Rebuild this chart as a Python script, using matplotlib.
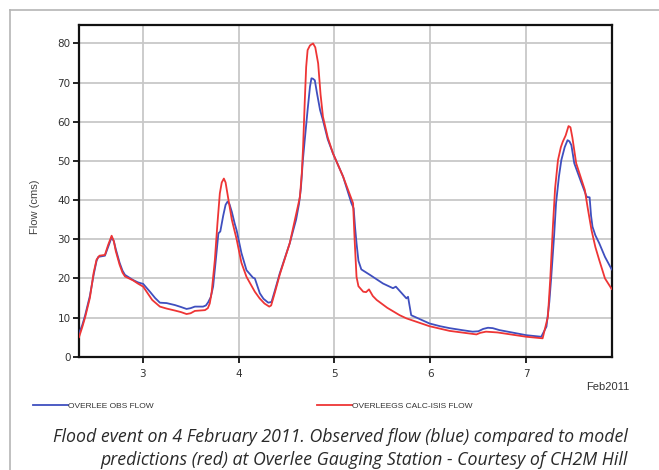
import matplotlib
matplotlib.use('Agg')
import matplotlib.pyplot as plt
from matplotlib.lines import Line2D

# =============================================================================
# Datos (dia de febrero 2011, caudal en cms)
# =============================================================================
# caudal observado (azul)
obs_day = [2.337, 2.37, 2.40, 2.45, 2.49, 2.52, 2.538, 2.607, 2.64, 2.677,
           2.70, 2.72, 2.76, 2.79, 2.816, 2.90, 2.95, 3.006, 3.08, 3.13,
           3.18, 3.25, 3.336, 3.40, 3.458, 3.50, 3.545, 3.63, 3.66, 3.683,
           3.71, 3.735, 3.76, 3.79, 3.81, 3.84, 3.865, 3.885, 3.905, 3.93,
           3.96, 3.98, 4.03, 4.083, 4.15, 4.17, 4.222, 4.26, 4.31, 4.344,
           4.38, 4.43, 4.534, 4.60, 4.63, 4.65, 4.67, 4.69, 4.72, 4.745,
           4.76, 4.775, 4.795, 4.82, 4.85, 4.88, 4.93, 4.985, 5.09, 5.177,
           5.20, 5.215, 5.23, 5.25, 5.28, 5.37, 5.506, 5.61, 5.64, 5.75,
           5.767, 5.80, 5.99, 6.10, 6.20, 6.33, 6.44, 6.50, 6.55, 6.60,
           6.65, 6.72, 7.0, 7.156, 7.21, 7.24, 7.26, 7.29, 7.31, 7.34,
           7.365, 7.40, 7.43, 7.45, 7.47, 7.50, 7.57, 7.63, 7.66, 7.675,
           7.69, 7.72, 7.76, 7.82, 7.89]
obs_flow = [6.0, 8.0, 10.5, 15.5, 21.0, 24.5, 25.5, 25.8, 28.0, 30.5,
            29.5, 27.5, 24.0, 22.0, 20.9, 19.6, 19.0, 18.6, 16.5, 15.0,
            13.8, 13.7, 13.2, 12.7, 12.2, 12.4, 12.8, 12.8, 13.1, 13.9,
            15.2, 17.9, 24.0, 31.5, 32.0, 36.0, 38.8, 39.6, 39.0, 37.0,
            34.0, 32.3, 26.5, 22.1, 20.2, 20.0, 16.2, 14.8, 13.8, 14.0,
            17.0, 21.3, 29.0, 35.0, 39.0, 43.0, 50.0, 55.3, 63.0, 69.0,
            71.1, 71.0, 70.6, 67.0, 63.0, 60.4, 55.5, 51.9, 46.0, 39.2,
            37.9, 33.0, 29.0, 24.5, 22.3, 20.9, 18.7, 17.5, 17.9, 14.9,
            15.3, 10.6, 8.5, 7.8, 7.3, 6.8, 6.4, 6.5, 7.1, 7.4,
            7.3, 6.8, 5.5, 5.1, 7.7, 14.0, 20.4, 31.0, 39.2, 46.0,
            50.2, 53.5, 55.3, 55.0, 54.0, 49.4, 44.7, 40.8, 40.7, 36.0,
            33.2, 31.0, 29.0, 25.5, 22.3]

# caudal calculado ISIS (rojo)
calc_day = [2.337, 2.37, 2.40, 2.45, 2.49, 2.52, 2.55, 2.607, 2.64, 2.677,
            2.70, 2.72, 2.76, 2.79, 2.816, 2.90, 2.95, 3.006, 3.05, 3.10,
            3.18, 3.25, 3.336, 3.40, 3.458, 3.50, 3.545, 3.65, 3.68, 3.70,
            3.72, 3.753, 3.78, 3.805, 3.825, 3.847, 3.865, 3.89, 3.93, 3.98,
            4.03, 4.083, 4.17, 4.22, 4.27, 4.32, 4.34, 4.38, 4.43, 4.534,
            4.64, 4.66, 4.673, 4.69, 4.705, 4.72, 4.745, 4.777, 4.80, 4.83,
            4.855, 4.88, 4.93, 4.985, 5.09, 5.194, 5.21, 5.23, 5.25, 5.30,
            5.33, 5.36, 5.40, 5.44, 5.55, 5.68, 5.75, 5.99, 6.20, 6.48,
            6.52, 6.58, 6.70, 7.0, 7.17, 7.225, 7.25, 7.277, 7.30, 7.33,
            7.36, 7.38, 7.41, 7.44, 7.46, 7.48, 7.52, 7.61, 7.64, 7.68,
            7.72, 7.76, 7.82, 7.89]
calc_flow = [5.0, 7.5, 10.0, 15.0, 21.5, 24.8, 25.8, 26.0, 28.5, 30.9,
             29.5, 27.0, 23.5, 21.5, 20.5, 19.5, 18.7, 17.9, 16.3, 14.5,
             12.8, 12.3, 11.8, 11.4, 10.9, 11.1, 11.7, 11.9, 12.4, 13.6,
             16.5, 24.7, 34.0, 41.7, 44.5, 45.5, 44.5, 40.8, 35.0, 30.0,
             24.0, 20.4, 16.6, 14.9, 13.6, 12.8, 13.1, 16.5, 21.0, 29.0,
             40.8, 47.0, 53.6, 65.0, 74.0, 78.3, 79.5, 80.0, 79.0, 74.9,
             67.0, 61.3, 56.0, 51.9, 46.0, 39.2, 30.0, 20.4, 18.0, 16.6,
             16.5, 17.2, 15.5, 14.5, 12.5, 10.6, 9.8, 7.8, 6.6, 5.7,
             6.1, 6.4, 6.2, 5.1, 4.7, 10.2, 20.0, 33.2, 43.0, 50.2,
             53.5, 54.9, 56.5, 58.9, 58.6, 56.0, 49.4, 42.6, 38.0, 32.3,
             28.0, 24.7, 20.0, 17.3]

x_ticks = [3, 4, 5, 6, 7]
y_ticks = [0, 10, 20, 30, 40, 50, 60, 70, 80]

COL_OBS = '#3f4fbf'
COL_CALC = '#ee3535'

plt.rcParams['font.family'] = ['Liberation Sans', 'DejaVu Sans']

fig = plt.figure(figsize=(6.59, 4.70), dpi=100)
ax = fig.add_axes([0.1199, 0.241, 0.8083, 0.7057])

ax.plot(obs_day, obs_flow, color=COL_OBS, lw=1.3, label='OVERLEE OBS FLOW',
        zorder=3)
ax.plot(calc_day, calc_flow, color=COL_CALC, lw=1.3,
        label='OVERLEEGS CALC-ISIS FLOW', zorder=3)

ax.set_xlim(2.337, 7.89)
ax.set_ylim(0, 84.7)
ax.set_xticks(x_ticks)
ax.set_yticks(y_ticks)
ax.grid(True, color='#c8c8c8', lw=1.3)
ax.set_axisbelow(True)
for s in ax.spines.values():
    s.set_linewidth(1.6)
    s.set_color('#111111')
ax.tick_params(axis='both', direction='out', length=4, width=1.3,
               labelsize=7.5, labelcolor='#333333', color='#111111', pad=2)
for lab in ax.get_xticklabels() + ax.get_yticklabels():
    lab.set_family(['DejaVu Sans'])
ax.tick_params(axis='x', pad=5)
ax.set_ylabel('Flow (cms)', fontsize=8, color='#444444')
ax.yaxis.set_label_coords(-0.073, 0.451)

fig.text(629 / 659, 1 - 387 / 470, 'Feb2011', ha='right', va='center',
         fontsize=8, color='#333333')

leg = fig.legend(loc='center left', bbox_to_anchor=(33 / 659, 1 - 406 / 470),
                 ncol=2, frameon=False, fontsize=6, handlelength=4.2,
                 handletextpad=0.05, columnspacing=19.5, borderpad=0,
                 borderaxespad=0)
for t in leg.get_texts():
    t.set_color('#333333')

# marco gris exterior
fig.add_artist(Line2D([10 / 659, 10 / 659], [0, 1 - 10 / 470],
                      transform=fig.transFigure, color='#b5b5b5', lw=1.2))
fig.add_artist(Line2D([10 / 659, 1], [1 - 10 / 470, 1 - 10 / 470],
                      transform=fig.transFigure, color='#b5b5b5', lw=1.2))

cap_kw = dict(ha='right', va='center', fontsize=12.8, style='italic',
              color='#2a2a2a', family=['Open Sans', 'DejaVu Sans'])
fig.text(628 / 659, 1 - 437 / 470,
         'Flood event on 4 February 2011. Observed flow (blue) compared to model',
         **cap_kw)
fig.text(628 / 659, 1 - 460 / 470,
         'predictions (red) at Overlee Gauging Station - Courtesy of CH2M Hill',
         **cap_kw)

fig.savefig('out.png', dpi=100)
